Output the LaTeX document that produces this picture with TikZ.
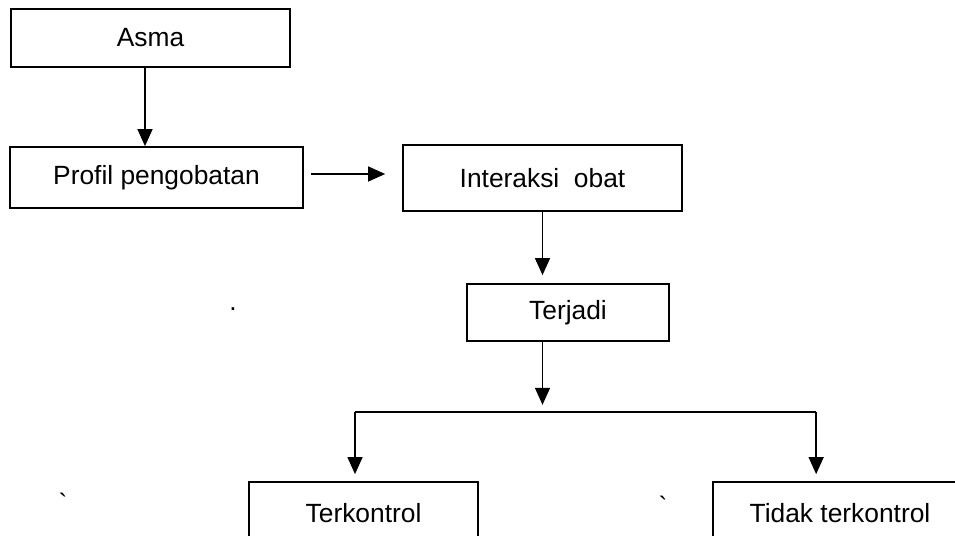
\documentclass[tikz,border=0pt]{standalone}
\usepackage{fontspec}
\setmainfont{Liberation Sans}
\usetikzlibrary{arrows.meta}

\begin{document}
\begin{tikzpicture}[x=0.02cm,y=-0.02cm,
  kotak/.style={draw,line width=1pt,inner sep=0pt,font=\fontsize{15}{18}\selectfont},
  panah/.style={line width=0.75pt,-{Triangle[length=0.34cm,width=0.3cm]}},
  tanda/.style={inner sep=0pt,font=\fontsize{15}{18}\selectfont}]
\useasboundingbox (0,0) rectangle (955,536);
\clip (0,0) rectangle (955,536);
\node (asma) at (150.5,38) [kotak,minimum width=5.58cm,minimum height=1.16cm] {Asma};
\node (profil) at (156.5,177.5) [kotak,minimum width=5.86cm,minimum height=1.22cm] {Profil pengobatan};
\node (interaksi) at (542.5,178) [kotak,minimum width=5.58cm,minimum height=1.32cm] {Interaksi\ \ obat};
\node (terjadi) at (568,312.5) [kotak,minimum width=4.04cm,minimum height=1.14cm] {Terjadi};
\node (terkontrol) at (363.5,513.5) [kotak,minimum width=4.58cm,minimum height=1.26cm] {Terkontrol};
\node (tidak) at (840,513.5) [kotak,minimum width=5.08cm,minimum height=1.26cm] {Tidak terkontrol};
\node (titik) at (233,309) [tanda] {.};
\node (aksen1) at (63,503) [tanda] {\textasciigrave};
\node (aksen2) at (663,506) [tanda] {\textasciigrave};
% Asma ke profil
\coordinate (a1) at ([xshift=-0.11cm]asma.south);
\draw[panah] (a1) -- (a1 |- profil.north);
% profil ke interaksi
\coordinate (p1) at ([xshift=0.14cm,yshift=0.07cm]profil.east);
\coordinate (p2) at ([xshift=-0.34cm]interaksi.west);
\draw[panah] (p1) -- (p1 -| p2);
% interaksi ke terjadi
\coordinate (t1) at (interaksi.south |- terjadi.north);
\draw[panah] (interaksi.south) -- ([yshift=0.16cm]t1);
% cabang
\coordinate (t2) at (interaksi.south |- terjadi.south);
\coordinate (cabang) at ([yshift=-1.4cm]t2);
\draw[panah] (t2) -- ([yshift=0.14cm]cabang);
\coordinate (ka) at ([xshift=-0.17cm]terkontrol.north);
\coordinate (kb) at ([xshift=2.08cm]tidak.north west);
\draw[line width=0.75pt] (cabang -| ka) -- (cabang -| kb);
\draw[panah] (cabang -| ka) -- ([yshift=0.14cm]ka);
\draw[panah] (cabang -| kb) -- ([yshift=0.14cm]kb);
\end{tikzpicture}
\end{document}
